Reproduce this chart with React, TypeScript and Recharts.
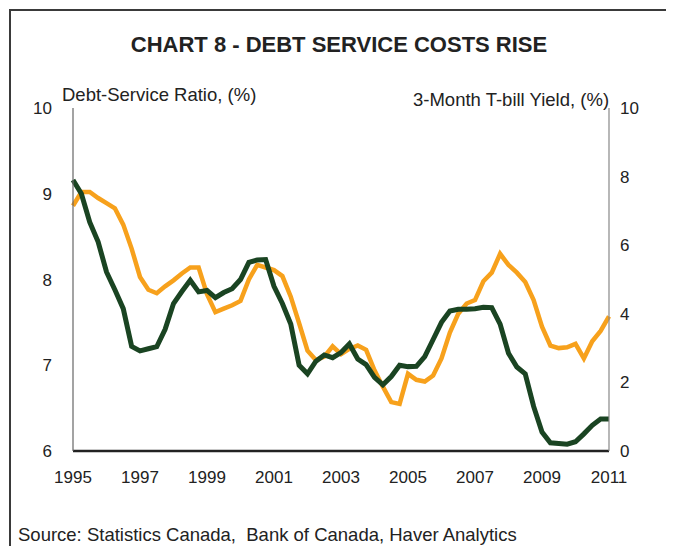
import { Line, LineChart, XAxis, YAxis } from "recharts";

// quarterly observations, 1995Q1 .. 2011Q1
const years = [1995, 1996, 1997, 1998, 1999, 2000, 2001, 2002, 2003, 2004, 2005, 2006, 2007, 2008, 2009, 2010, 2011];
const quarterLabels: string[] = [];
years.forEach((y) => {
  ["Q1", "Q2", "Q3", "Q4"].forEach((q) => {
    if (y < 2011 || q === "Q1") quarterLabels.push(`${y}${q}`);
  });
});

// Debt-Service Ratio, (%) - left axis
const debtServiceRatio = [
  8.86, 9.02, 9.02, 8.95, 8.89, 8.83, 8.64, 8.36,
  8.03, 7.88, 7.84, 7.92, 7.99, 8.07, 8.14, 8.14,
  7.83, 7.62, 7.66, 7.7, 7.75, 8.0, 8.17, 8.14,
  8.11, 8.04, 7.8, 7.49, 7.17, 7.06, 7.1, 7.22,
  7.13, 7.19, 7.23, 7.18, 6.94, 6.75, 6.57, 6.55,
  6.9, 6.83, 6.81, 6.88, 7.08, 7.38, 7.6, 7.72,
  7.76, 7.98, 8.08, 8.3, 8.17, 8.08, 7.97, 7.76,
  7.45, 7.23, 7.2, 7.21, 7.25, 7.08, 7.28, 7.4,
  7.57,
];

// 3-Month T-bill Yield, (%) - right axis
const tbillYield = [
  7.9, 7.5, 6.67, 6.1, 5.22, 4.7, 4.15, 3.05,
  2.92, 2.98, 3.04, 3.55, 4.3, 4.65, 4.98, 4.64,
  4.68, 4.47, 4.62, 4.73, 5.0, 5.5, 5.57, 5.58,
  4.8, 4.3, 3.7, 2.5, 2.25, 2.62, 2.8, 2.72,
  2.87, 3.12, 2.68, 2.52, 2.15, 1.93, 2.17, 2.5,
  2.46, 2.47, 2.75, 3.25, 3.75, 4.08, 4.13, 4.13,
  4.15, 4.19, 4.18, 3.7, 2.85, 2.45, 2.25, 1.3,
  0.55, 0.24, 0.22, 0.2, 0.27, 0.5, 0.75, 0.93,
  0.93,
];

const yearTicks = [1995, 1997, 1999, 2001, 2003, 2005, 2007, 2009, 2011];
const leftTicks = [6, 7, 8, 9, 10];
const rightTicks = [0, 2, 4, 6, 8, 10];

const rows = quarterLabels.map((label, i) => ({
  label,
  t: Number(label.slice(0, 4)) + (Number(label.slice(5)) - 1) / 4,
  dsr: debtServiceRatio[i],
  tbill: tbillYield[i],
}));

const FONT = "'Liberation Sans', Arial, sans-serif";
const tickStyle = { fill: "#222", fontSize: 17, fontFamily: FONT };

export default function App() {
  return (
    <div style={{ position: "relative", width: 674, height: 554, margin: -8, background: "#fff", fontFamily: FONT, color: "#222" }}>
      <div
        style={{
          position: "absolute",
          left: 9,
          top: 9,
          width: 665,
          height: 545,
          borderLeft: "2px solid #3a3a3a",
          borderTop: "2px solid #3a3a3a",
        }}
      />
      <div style={{ position: "absolute", left: 0, width: 678, top: 32, textAlign: "center", fontSize: 22, fontWeight: "bold" }}>
        CHART 8 - DEBT SERVICE COSTS RISE
      </div>
      <div style={{ position: "absolute", left: 62, top: 84, fontSize: 18.5 }}>Debt-Service Ratio, (%)</div>
      <div style={{ position: "absolute", left: 413, top: 89, fontSize: 18.5 }}>3-Month T-bill Yield, (%)</div>

      <LineChart
        width={674}
        height={554}
        data={rows}
        margin={{ top: 108, right: 0, bottom: 63, left: 0 }}
        style={{ position: "absolute", left: 0, top: 0 }}
      >
        <XAxis
          dataKey="t"
          type="number"
          domain={[1995, 2011]}
          ticks={yearTicks}
          tickLine={false}
          axisLine={{ stroke: "#222", strokeWidth: 2.5 }}
          tick={tickStyle}
          tickMargin={14}
          height={40}
        />
        <YAxis
          yAxisId="left"
          domain={[6, 10]}
          ticks={leftTicks}
          tickLine={false}
          axisLine={{ stroke: "#666", strokeWidth: 1.2 }}
          tick={tickStyle}
          tickMargin={15}
          width={73}
        />
        <YAxis
          yAxisId="right"
          orientation="right"
          domain={[0, 10]}
          ticks={rightTicks}
          tickLine={false}
          axisLine={{ stroke: "#888", strokeWidth: 1.2 }}
          tick={tickStyle}
          tickMargin={5}
          width={65}
        />
        <Line
          yAxisId="left"
          type="linear"
          dataKey="dsr"
          stroke="#F7A11C"
          strokeWidth={4.5}
          dot={false}
          isAnimationActive={false}
        />
        <Line
          yAxisId="right"
          type="linear"
          dataKey="tbill"
          stroke="#1A4422"
          strokeWidth={5}
          dot={false}
          isAnimationActive={false}
        />
      </LineChart>

      <div style={{ position: "absolute", left: 18, top: 524, fontSize: 18.5 }}>
        Source: Statistics Canada,&nbsp; Bank of Canada, Haver Analytics
      </div>
    </div>
  );
}
